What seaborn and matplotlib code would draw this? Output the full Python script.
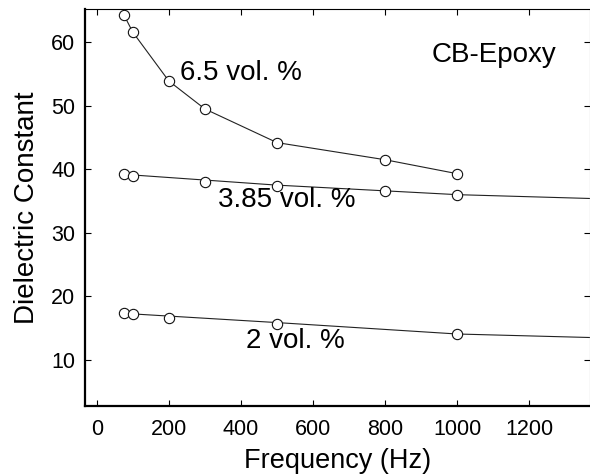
import matplotlib
matplotlib.use("Agg")
import matplotlib.pyplot as plt
import seaborn as sns
import pandas as pd

# measured points
freq_65 = [75, 100, 200, 300, 500, 800, 1000]
eps_65 = [64.35, 61.6, 53.9, 49.5, 44.2, 41.5, 39.3]

freq_385 = [75, 100, 300, 500, 800, 1000]
eps_385 = [39.3, 39.0, 38.0, 37.4, 36.5, 36.0]

freq_2 = [75, 100, 200, 500, 1000]
eps_2 = [17.3, 17.15, 16.6, 15.7, 14.05]

# trend lines
trend_385_x = [75, 500, 1000, 1367]
trend_385_y = [39.2, 37.5, 36.0, 35.4]
trend_2_x = [75, 500, 1000, 1367]
trend_2_y = [17.3, 15.85, 14.05, 13.5]

labels = ["6.5 vol. %", "3.85 vol. %", "2 vol. %"]
x_ticks = [0, 200, 400, 600, 800, 1000, 1200]
y_ticks = [10, 20, 30, 40, 50, 60]

sns.set_theme(style="ticks")
plt.rcParams["font.family"] = ["Liberation Sans", "DejaVu Sans"]
plt.rcParams["text.color"] = "black"
plt.rcParams["axes.labelcolor"] = "black"
plt.rcParams["xtick.color"] = "black"
plt.rcParams["ytick.color"] = "black"

fig = plt.figure(figsize=(5.9, 4.76), dpi=100)
ax = fig.add_axes([0.1441, 0.1464, 0.9992 - 0.1441, 0.9805 - 0.1464])

pts = pd.concat([
    pd.DataFrame({"f": freq_65, "e": eps_65, "s": labels[0]}),
    pd.DataFrame({"f": freq_385, "e": eps_385, "s": labels[1]}),
    pd.DataFrame({"f": freq_2, "e": eps_2, "s": labels[2]}),
])

line_kw = dict(color="#222222", linewidth=0.8)
sns.lineplot(x=freq_65, y=eps_65, ax=ax, sort=False, estimator=None, **line_kw)
sns.lineplot(x=trend_385_x, y=trend_385_y, ax=ax, sort=False, estimator=None, **line_kw)
sns.lineplot(x=trend_2_x, y=trend_2_y, ax=ax, sort=False, estimator=None, **line_kw)

sns.scatterplot(data=pts, x="f", y="e", ax=ax, marker="o", s=55,
                facecolor="white", edgecolor="#111111", linewidth=0.8,
                legend=False, zorder=3)

ax.set_xlim(-32.5, 1367)
ax.set_ylim(2.66, 65.2)
ax.set_xticks(x_ticks)
ax.set_yticks(y_ticks)
ax.tick_params(direction="in", length=4, width=0.8, top=True, right=True,
               labelsize=15.5, colors="black", labelcolor="black", pad=7)
ax.tick_params(axis="x", pad=9)

ax.set_xlabel("Frequency (Hz)", fontsize=19.5, labelpad=6, color="black")
ax.set_ylabel("Dielectric Constant", fontsize=20, labelpad=8, color="black")

for side in ["left", "bottom"]:
    ax.spines[side].set_linewidth(1.6)
    ax.spines[side].set_color("black")
ax.spines["top"].set_linewidth(0.8)
ax.spines["top"].set_color("black")
ax.spines["right"].set_linewidth(0.8)
ax.spines["right"].set_color("#888888")

ax.text(231, 54.06, labels[0], fontsize=20, ha="left", va="baseline", color="black")
ax.text(337, 34.1, labels[1], fontsize=20, ha="left", va="baseline", color="black")
ax.text(415, 11.8, labels[2], fontsize=20, ha="left", va="baseline", color="black")
ax.text(929, 56.9, "CB-Epoxy", fontsize=20, ha="left", va="baseline", color="black")

fig.savefig("out.png", dpi=100)
